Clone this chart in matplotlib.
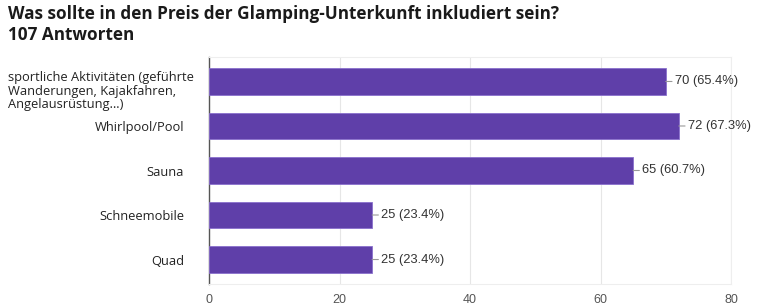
import matplotlib
matplotlib.use("Agg")
import matplotlib.pyplot as plt
import numpy as np

# survey data
categories = ["sportliche Aktivitäten (geführte\nWanderungen, Kajakfahren,\nAngelausrüstung…)",
              "Whirlpool/Pool", "Sauna", "Schneemobile", "Quad"]
counts = [70, 72, 65, 25, 25]
percents = [65.4, 67.3, 60.7, 23.4, 23.4]
x_ticks = [0, 20, 40, 60, 80]

bar_color = "#5f3fa9"

fig = plt.figure(figsize=(7.57, 3.05), dpi=100)
ax = fig.add_axes([209 / 757, 1 - 284 / 305, (731 - 209) / 757, (284 - 57) / 305])

y = np.arange(len(categories))
ax.barh(y, counts, height=0.6, color=bar_color, edgecolor="#8a70cc", linewidth=0.6, zorder=3)

ax.set_xlim(0, 80)
ax.set_ylim(len(categories) - 0.45, -0.55)
ax.set_xticks(x_ticks)
ax.set_xticklabels([str(t) for t in x_ticks], fontsize=9, color="#555555",
                   fontfamily="Liberation Sans")
ax.tick_params(axis="x", length=0, pad=7)
ax.grid(axis="x", color="#e6e6e6", linewidth=0.8, zorder=0)

# y labels: the first (long) one is placed by hand, left aligned
ax.set_yticks(y)
ax.set_yticklabels([""] + categories[1:], fontsize=9.3, color="#222222", fontfamily="Open Sans")
ax.tick_params(axis="y", length=0, pad=18)
ax.annotate(categories[0], xy=(8 / 757, 0), xycoords=("figure fraction", "data"),
            xytext=(0, -7), textcoords="offset points", ha="left", va="center",
            fontsize=9.3, color="#222222", fontfamily="Open Sans", linespacing=1.05)

# value labels with a small connector line
for i in range(len(counts)):
    ax.annotate("%d (%.1f%%)" % (counts[i], percents[i]), xy=(counts[i], i),
                xytext=(6.5, 0), textcoords="offset points", ha="left", va="center",
                fontsize=9.3, color="#333333", fontfamily="Liberation Sans",
                arrowprops=dict(arrowstyle="-", color="#999999", lw=0.8,
                                shrinkA=0, shrinkB=0))

for side in ["top", "right", "bottom"]:
    ax.spines[side].set_color("#eeeeee")
ax.spines["left"].set_color("#555555")
ax.spines["left"].set_linewidth(1.0)

fig.text(8 / 757, 1 - 5 / 305, "Was sollte in den Preis der Glamping-Unterkunft inkludiert sein?\n107 Antworten",
         ha="left", va="top", fontsize=12.3, fontweight="bold", color="#1a1a1a",
         fontfamily="Open Sans", linespacing=1.2)

fig.savefig("out.png", dpi=100)
